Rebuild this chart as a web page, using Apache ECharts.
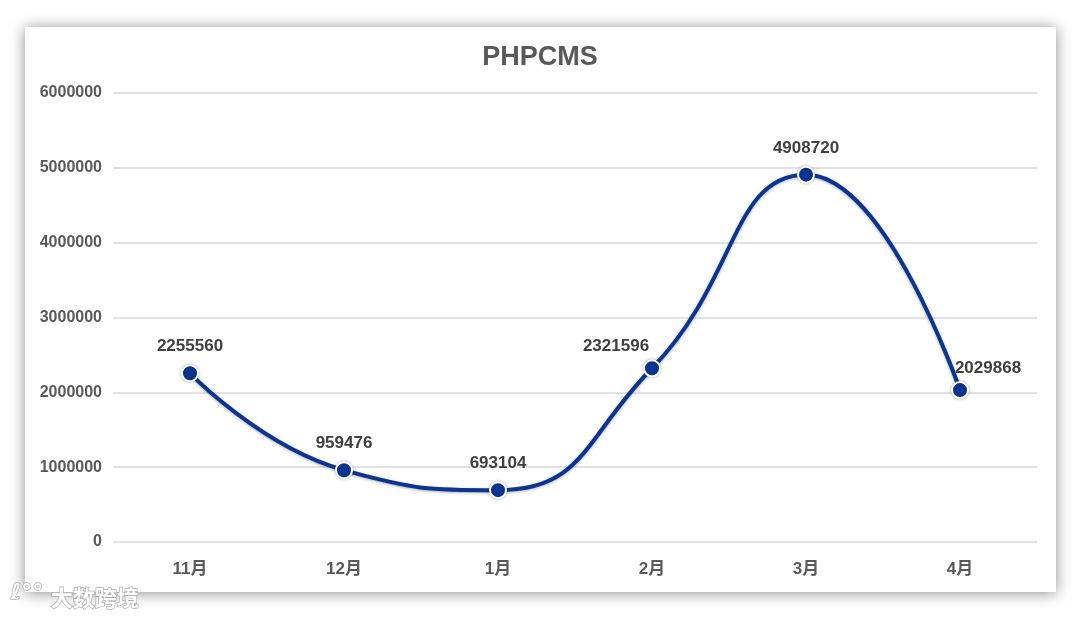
<!DOCTYPE html>
<html>
<head>
<meta charset="utf-8">
<script src="https://cdn.jsdelivr.net/npm/echarts@6/dist/echarts.min.js"></script>
<style>html,body{margin:0;padding:0;background:#fff}#c{width:1080px;height:619px}</style>
</head>
<body>
<div id="c"></div>
<script>
var titleText = 'PHPCMS';
var categories = ['11月', '12月', '1月', '2月', '3月', '4月'];
var values = [2255560, 959476, 693104, 2321596, 4908720, 2029868];
var labelPositions = ['top', 'top', 'top', 'left', 'top', 'right'];

var chart = echarts.init(document.getElementById('c'), null, {renderer: 'canvas'});
var font = '"Liberation Sans", Arial, "Noto Sans CJK SC", sans-serif';

var seriesData = values.map(function (v, i) {
  var pos = labelPositions[i];
  var lbl = {position: 'top', distance: 9};
  if (pos === 'left') lbl = {position: 'top', offset: [-36, 2], distance: 6};
  if (pos === 'right') lbl = {position: 'top', offset: [28, 2], distance: 6};
  return {value: v, label: lbl};
});

chart.setOption({
  backgroundColor: '#ffffff',
  animation: false,
  graphic: [
    {
      type: 'rect', z: -10, silent: true,
      shape: {x: 25, y: 27, width: 1031, height: 565},
      style: {fill: '#ffffff', shadowBlur: 14, shadowColor: 'rgba(0,0,0,0.45)', shadowOffsetX: 0, shadowOffsetY: 1}
    },
    {
      type: 'text', left: 50, top: 586, silent: true, z: 10,
      style: {text: '大数跨境', font: 'bold 22px "Noto Sans CJK SC", sans-serif', fill: '#ffffff', stroke: '#b0b0b0', lineWidth: 1.5}
    },
    {
      type: 'text', left: 10, top: 582, silent: true, z: 10,
      style: {text: 'ℓ°°', font: 'bold 22px "DejaVu Sans", sans-serif', fill: '#ffffff', stroke: '#b0b0b0', lineWidth: 1.5}
    }
  ],
  title: {
    text: titleText,
    left: 'center',
    top: 39,
    textStyle: {fontFamily: font, fontSize: 27, fontWeight: 'bold', color: '#595959'}
  },
  grid: {left: 113, right: 43, top: 93, bottom: 77},
  xAxis: {
    type: 'category',
    data: categories,
    boundaryGap: true,
    axisLine: {show: false},
    axisTick: {show: false},
    axisLabel: {fontFamily: font, fontSize: 17, fontWeight: 'bold', color: '#595959', margin: 19}
  },
  yAxis: {
    type: 'value',
    min: 0,
    max: 6000000,
    interval: 1000000,
    axisLine: {show: false},
    axisTick: {show: false},
    splitLine: {lineStyle: {color: '#d9d9d9', width: 1.5}},
    axisLabel: {fontFamily: font, fontSize: 16, fontWeight: 'bold', color: '#595959', margin: 11,
      formatter: function (v) { return String(v); }}
  },
  series: [{
    type: 'line',
    data: seriesData,
    smooth: 0.5,
    symbol: 'circle',
    symbolSize: 16,
    lineStyle: {color: '#0b3590', width: 4, shadowBlur: 3, shadowColor: 'rgba(0,0,0,0.3)', shadowOffsetY: 1},
    itemStyle: {color: '#0b3590', borderColor: '#ffffff', borderWidth: 2, shadowBlur: 3, shadowColor: 'rgba(0,0,0,0.3)'},
    label: {show: true, fontFamily: font, fontSize: 17, fontWeight: 'bold', color: '#404040'}
  }]
});
</script>
</body>
</html>
